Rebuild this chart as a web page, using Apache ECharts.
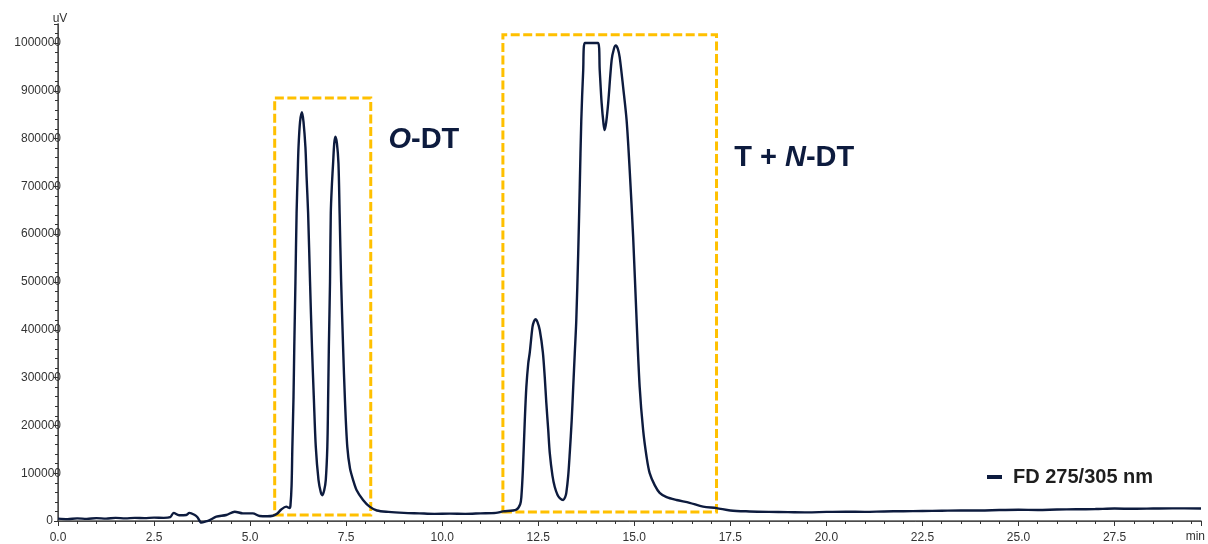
<!DOCTYPE html>
<html>
<head>
<meta charset="utf-8">
<title>FD 275/305 nm chromatogram</title>
<script src="https://cdn.jsdelivr.net/npm/echarts@6/dist/echarts.min.js"></script>
<style>
  html, body { margin: 0; padding: 0; background: #fff; }
  #chart { width: 1208px; height: 544px; }
</style>
</head>
<body>
<div id="chart"></div>
<script>
// retention time (min)
const retentionTime = [
  0.0, 0.25, 0.5, 0.75, 1.0, 1.25, 1.5, 1.75, 2.0, 2.25,
  2.5, 2.75, 2.92, 3.01, 3.15, 3.34, 3.42, 3.55, 3.63, 3.73,
  3.85, 3.95, 4.12, 4.38, 4.6, 4.81, 5.07, 5.25, 5.45, 5.59,
  5.7, 5.81, 5.94, 6.03, 6.05, 6.08, 6.1, 6.13, 6.15, 6.18,
  6.21, 6.24, 6.26, 6.3, 6.35, 6.39, 6.44, 6.47, 6.51, 6.56,
  6.61, 6.66, 6.71, 6.78, 6.84, 6.88, 6.93, 6.97, 7.01, 7.03,
  7.05, 7.08, 7.1, 7.13, 7.16, 7.19, 7.22, 7.26, 7.3, 7.33,
  7.37, 7.42, 7.47, 7.53, 7.6, 7.68, 7.77, 7.94, 8.11, 8.3,
  8.6, 9.0, 9.4, 9.8, 10.2, 10.6, 11.0, 11.4, 11.58, 11.93,
  12.03, 12.06, 12.1, 12.15, 12.19, 12.24, 12.28, 12.35, 12.39, 12.43,
  12.48, 12.54, 12.62, 12.67, 12.71, 12.76, 12.8, 12.87, 12.93, 13.0,
  13.06, 13.15, 13.2, 13.23, 13.28, 13.32, 13.37, 13.41, 13.45, 13.49,
  13.54, 13.58, 13.62, 13.67, 13.71, 14.06, 14.1, 14.15, 14.2, 14.23,
  14.27, 14.32, 14.41, 14.47, 14.52, 14.57, 14.62, 14.71, 14.8, 14.88,
  14.97, 15.06, 15.14, 15.23, 15.32, 15.4, 15.53, 15.66, 15.84, 16.1,
  16.44, 16.79, 17.14, 17.5, 18.0, 18.5, 19.0, 19.5, 20.0, 20.5,
  21.0, 21.5, 22.0, 22.5, 23.0, 23.5, 24.0, 24.5, 25.0, 25.5,
  26.0, 26.5, 27.0, 27.5, 28.0, 28.5, 29.0, 29.75
];
// detector signal (uV)
const signal = [
  5000, 4000, 5500, 4500, 6000, 5000, 6500, 5500, 6500, 6000,
  7000, 6500, 8000, 17000, 12000, 12500, 17000, 13000, 8000, -3500,
  -1000, 2000, 9000, 12500, 19500, 16000, 16000, 10500, 10000, 11000,
  15000, 24000, 30000, 27000, 32000, 75000, 155000, 260000, 365000, 500000,
  644000, 730000, 782000, 835000, 855000, 835000, 782000, 720000, 644000, 500000,
  365000, 255000, 155000, 86000, 60000, 54000, 65000, 86000, 155000, 250000,
  365000, 500000, 644000, 705000, 748000, 790000, 804000, 790000, 748000, 644000,
  500000, 365000, 250000, 155000, 110000, 86000, 65000, 44000, 30000, 22000,
  19000, 17000, 16000, 15000, 15500, 15000, 16000, 17000, 20000, 24000,
  35000, 50000, 107000, 211000, 280000, 330000, 353000, 406000, 418000, 422000,
  416000, 399000, 353000, 300000, 247000, 190000, 142000, 95000, 71000, 55000,
  48000, 44000, 50000, 59000, 95000, 142000, 210000, 280000, 350000, 420000,
  560000, 698000, 838000, 943000, 1000000, 1000000, 943000, 874000, 830000, 818000,
  835000, 874000, 964000, 988000, 995000, 988000, 970000, 907000, 838000, 734000,
  594000, 420000, 280000, 190000, 134000, 100000, 75000, 59000, 50000, 44000,
  38000, 30000, 27000, 22000, 20000, 19000, 18500, 18000, 19000, 19500,
  19000, 20000, 20500, 21000, 21500, 22000, 22000, 23000, 23500, 23000,
  24000, 24500, 25000, 26000, 25500, 26000, 26500, 26000
];

const seriesName = "FD 275/305 nm";

// highlighted regions [start, end] in min and [bottom, top] in uV
const boxTimes = [[5.64, 8.14], [11.58, 17.14]];
const boxSignal = [[12500, 885000], [19000, 1017000]];
// region labels and anchor (min, uV)
const boxLabels = ["{i|O}{n|-DT}", "{n|T + }{i|N}{n|-DT}"];
const labelAnchor = [[8.6, 797000], [17.6, 759000]];

const xTicks = { min: 0, max: 29.75, step: 2.5 };
const yTicks = { min: 0, max: 1039700, step: 100000 };

let font = "'Liberation Sans', Arial, sans-serif";
let navy = "#0d1b3e";

let lineData = retentionTime.map((t, i) => [t, signal[i]]);

let option = {
  animation: false,
  textStyle: { fontFamily: font },
  // 底边留 3px 给 x 轴（x 轴画在 0 值下方一点）
  grid: { left: 58, right: 6, top: 24, bottom: 23 },
  legend: {
    data: [seriesName],
    left: 982,
    top: 462,
    icon: "rect",
    itemWidth: 15,
    itemHeight: 4,
    textStyle: {
      fontFamily: font,
      fontSize: 20,
      fontWeight: "bold",
      color: "#1e1e1e",
      padding: [0, 0, 0, 6]
    }
  },
  xAxis: [
    {
      type: "value",
      min: xTicks.min,
      max: xTicks.max,
      interval: xTicks.step,
      offset: 3,
      name: "min",
      nameLocation: "end",
      nameGap: 4,
      nameTextStyle: {
        color: "#333",
        fontSize: 12,
        align: "right",
        verticalAlign: "top",
        padding: [10, 0, 0, 0]
      },
      axisLine: { lineStyle: { color: "#333", width: 1 } },
      axisTick: { length: 5, lineStyle: { color: "#333" } },
      minorTick: { show: true, splitNumber: 5, length: 3, lineStyle: { color: "#333" } },
      splitLine: { show: false },
      axisLabel: {
        color: "#333",
        fontSize: 12,
        margin: 8,
        showMaxLabel: false,
        formatter: function(v) {
          return Math.abs(v / xTicks.step - Math.round(v / xTicks.step)) < 1e-6 ? v.toFixed(1) : "";
        }
      }
    },
    {
      //上边框
      type: "value",
      position: "top",
      min: xTicks.min,
      max: xTicks.max,
      axisLine: { show: true, lineStyle: { color: "#555", width: 1.5 } },
      axisTick: { show: false },
      axisLabel: { show: false },
      splitLine: { show: false }
    }
  ],
  yAxis: [
    {
      type: "value",
      min: yTicks.min,
      max: yTicks.max,
      interval: yTicks.step,
      name: "uV",
      nameLocation: "end",
      nameGap: -1,
      nameTextStyle: { color: "#333", fontSize: 12, padding: [0, 0, 0, 4] },
      axisLine: { show: true, lineStyle: { color: "#333", width: 1 } },
      axisTick: { show: true, length: 4, lineStyle: { color: "#333" } },
      minorTick: { show: true, splitNumber: 5, length: 3, lineStyle: { color: "#333" } },
      splitLine: { show: false },
      axisLabel: {
        color: "#333",
        fontSize: 12,
        margin: -3,
        showMinLabel: true,
        showMaxLabel: false,
        formatter: function(v) {
          if (v === 0) return "{z|0}";
          return v % yTicks.step === 0 ? String(v) : "";
        },
        rich: {
          // 0 标签在轴线左边
          z: { color: "#333", fontSize: 12, fontFamily: font, padding: [0, 8, 0, 0] }
        }
      }
    },
    {
      //右边框
      type: "value",
      position: "right",
      min: yTicks.min,
      max: yTicks.max,
      axisLine: { show: true, lineStyle: { color: "#555", width: 1.5 } },
      axisTick: { show: false },
      axisLabel: { show: false },
      splitLine: { show: false }
    }
  ],
  series: [
    {
      name: seriesName,
      type: "line",
      data: lineData,
      showSymbol: false,
      smooth: 0.3,
      clip: false,
      color: navy,
      lineStyle: { color: navy, width: 2.4 },
      markArea: {
        silent: true,
        itemStyle: {
          color: "rgba(0,0,0,0)",
          borderColor: "#FFC000",
          borderWidth: 3,
          borderType: [9, 3.5]
        },
        data: boxTimes.map((t, i) => [
          { coord: [t[0], boxSignal[i][0]] },
          { coord: [t[1], boxSignal[i][1]] }
        ])
      },
      markPoint: {
        silent: true,
        symbol: "circle",
        symbolSize: 0,
        label: {
          show: true,
          position: "right",
          distance: 0,
          formatter: function(p) {
            return boxLabels[p.dataIndex];
          },
          rich: {
            n: { fontFamily: font, fontSize: 29, fontWeight: "bold", color: navy },
            i: { fontFamily: font, fontSize: 29, fontWeight: "bold", fontStyle: "italic", color: navy }
          }
        },
        data: labelAnchor.map(a => ({ coord: a }))
      }
    }
  ]
};

let chart = echarts.init(document.getElementById("chart"));
chart.setOption(option);
</script>
</body>
</html>
